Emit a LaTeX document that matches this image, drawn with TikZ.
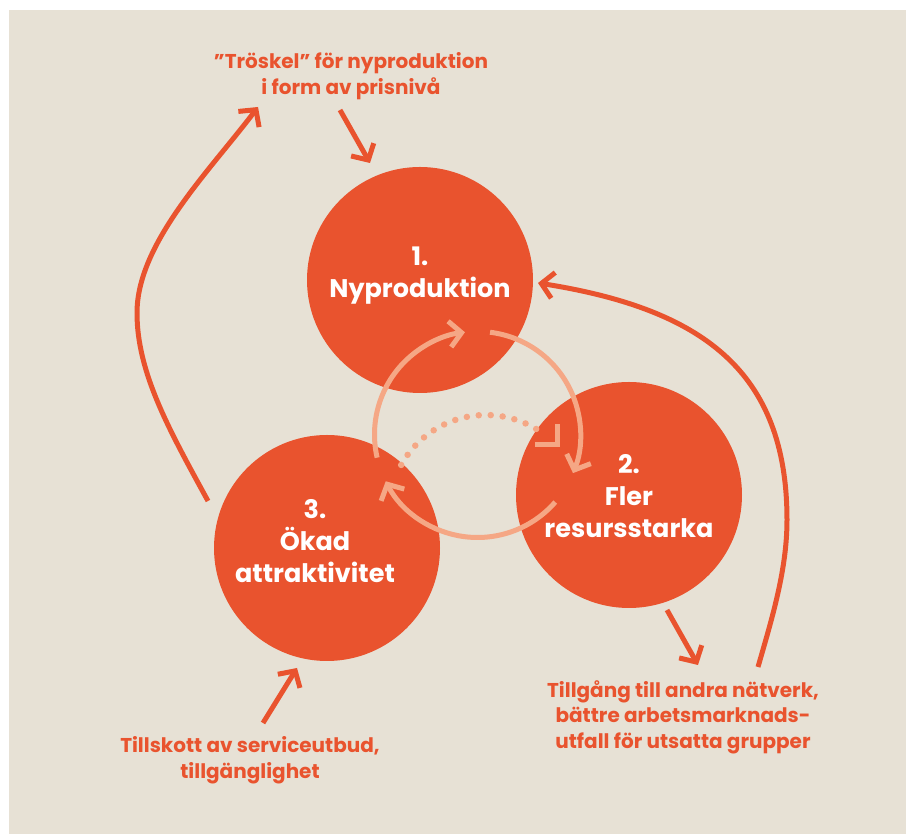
\documentclass[tikz,border=0pt]{standalone}
\usepackage{fontspec}
\setmainfont{Poppins}
\usetikzlibrary{arrows.meta}
\definecolor{bg}{HTML}{E7E1D5}
\definecolor{org}{HTML}{E9532E}
\definecolor{sal}{HTML}{F5A785}
\begin{document}
\begin{tikzpicture}[x=1pt,y=1pt,
  circ/.style={circle, fill=org, minimum size=226pt, inner sep=0pt},
  ctext/.style={text=white, font=\fontsize{25.5}{32}\selectfont\bfseries, align=center, inner sep=0pt},
  note/.style={text=org, font=\fontsize{20}{25.5}\selectfont\bfseries, align=center, inner sep=0pt},
  outer/.style={draw=org, line width=5pt, -{Straight Barb[length=12pt,width=26pt]}},
  ringarc/.style={draw=sal, line width=5pt, -{Straight Barb[length=12pt,width=26pt]}},
  dotline/.style={draw=sal, line width=6.5pt, line cap=round, dash pattern=on 0pt off 12pt},
]
\fill[white] (0,0) rectangle (906,834);
\fill[bg] (9,0) rectangle (906,824);
\useasboundingbox (0,0) rectangle (906,834);

% circles
\node[circ] (c1) at (420,554) {};
\node[circ] (c2) at (629,339) {};
\node[circ] (c3) at (327,286) {};

% inner ring
\coordinate (rc) at (477.5,399.5);
\draw[ringarc] ([shift={(193:103)}]rc) arc[start angle=193,end angle=97,radius=103];
\draw[ringarc] ([shift={(83:103)}]rc) arc[start angle=83,end angle=-22,radius=103];
\draw[ringarc] ([shift={(-41:103)}]rc) arc[start angle=-41,end angle=-153,radius=103];

% dotted arc
\coordinate (dc) at (486,322);
\draw[dotline] ([shift={(151:97)}]dc) arc[start angle=151,end angle=52,radius=97];
\coordinate (k1) at (535,389);
\coordinate (k2) at (557,389);
\coordinate (k3) at (557,410);
\draw[sal, line width=5pt] (k1) -- (k2) -- (k3);

% circle texts
\node[ctext] (t1) at (420,558) {1.\\Nyproduktion};
\node[ctext] (t2) at (629,337.5) {2.\\Fler\\resursstarka};
\node[ctext] (t3) at (315,293) {3.\\Ökad\\attraktivitet};

% notes
\node[note] (top) at (351,758) {”Tröskel” för nyproduktion\\i form av prisnivå};
\node[note] (right) at (683,117) {Tillgång till andra nätverk,\\bättre arbetsmarknads-\\utfall för utsatta grupper};
\node[note] (left) at (250,74) {Tillskott av serviceutbud,\\tillgänglighet};

% straight arrows
\coordinate (a1s) at (340,724); \coordinate (a1e) at (370,671);
\draw[outer] (a1s) -- (a1e);
\coordinate (a2s) at (667,224); \coordinate (a2e) at (698,169);
\draw[outer] (a2s) -- (a2e);
\coordinate (a3s) at (263,111); \coordinate (a3e) at (297,166);
\draw[outer] (a3s) -- (a3e);

% big curved arrows
\coordinate (l0) at (208,333); \coordinate (l1) at (137,521); \coordinate (l2) at (258,727);
\draw[outer] (l0) .. controls (169.7,403.2) and (137,461) .. (l1)
                  .. controls (137,591) and (209.8,663.2) .. (l2);
\coordinate (r0) at (758,167); \coordinate (r1) at (787,314); \coordinate (r2) at (538,551);
\draw[outer] (r0) .. controls (771.8,215) and (787,264) .. (r1)
                  .. controls (787,464) and (701,525.2) .. (r2);
\end{tikzpicture}
\end{document}
